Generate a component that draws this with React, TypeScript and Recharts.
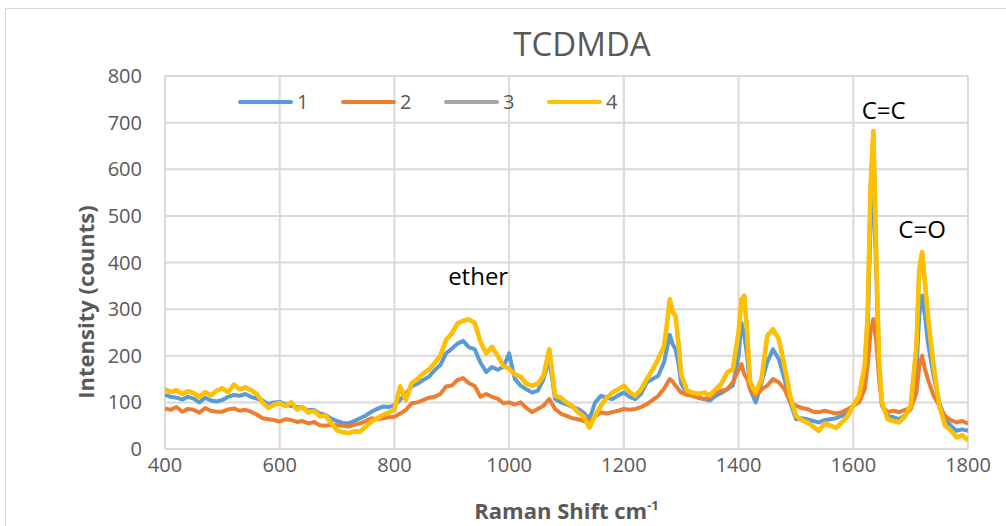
import React from "react";
import {
  LineChart,
  Line,
  XAxis,
  YAxis,
  CartesianGrid,
  Legend,
  Label,
  ReferenceDot,
} from "recharts";

// Raman spectra, [shift cm-1, counts]
const spectrum1: [number, number][] = [
  [400, 116], [410, 112], [420, 110], [430, 106], [440, 112], [450, 108], [460, 100], [470, 110], [480, 104], [490, 102],
  [500, 105], [510, 112], [520, 116], [530, 114], [540, 118], [550, 112], [560, 108], [570, 104], [580, 96], [590, 100],
  [600, 101], [610, 96], [620, 92], [630, 90], [640, 88], [650, 83], [660, 84], [670, 76], [680, 73], [690, 65],
  [700, 60], [710, 56], [720, 55], [730, 60], [740, 66], [750, 72], [760, 80], [770, 86], [780, 91], [790, 90],
  [800, 94], [810, 105], [820, 119], [830, 134], [840, 140], [850, 148], [860, 155], [870, 169], [880, 180], [890, 205],
  [900, 215], [910, 226], [920, 232], [930, 218], [940, 214], [950, 185], [960, 165], [970, 176], [980, 170], [990, 176],
  [1000, 205], [1010, 150], [1020, 136], [1030, 128], [1040, 121], [1050, 125], [1060, 150], [1070, 193], [1080, 107], [1090, 100],
  [1100, 96], [1110, 90], [1120, 86], [1130, 78], [1140, 64], [1150, 100], [1160, 114], [1170, 110], [1180, 107], [1190, 115],
  [1200, 121], [1210, 112], [1220, 107], [1230, 118], [1240, 143], [1250, 150], [1260, 157], [1270, 186], [1275, 215], [1280, 245],
  [1285, 225], [1290, 214], [1295, 185], [1300, 140], [1310, 118], [1320, 114], [1330, 110], [1340, 107], [1350, 104], [1360, 114],
  [1370, 120], [1380, 128], [1390, 136], [1400, 200], [1405, 271], [1410, 243], [1415, 200], [1420, 128], [1430, 100], [1440, 143],
  [1450, 186], [1460, 214], [1470, 193], [1480, 150], [1490, 100], [1500, 64], [1510, 66], [1520, 64], [1530, 60], [1540, 57],
  [1550, 62], [1560, 64], [1570, 66], [1580, 71], [1590, 80], [1600, 93], [1610, 107], [1620, 150], [1625, 250], [1630, 480],
  [1635, 560], [1640, 380], [1645, 170], [1650, 93], [1660, 71], [1670, 68], [1680, 64], [1690, 72], [1700, 86], [1710, 170],
  [1715, 286], [1720, 329], [1725, 286], [1730, 229], [1740, 157], [1750, 100], [1760, 64], [1770, 50], [1780, 39], [1790, 42],
  [1800, 39],
];

const spectrum2: [number, number][] = [
  [400, 87], [410, 84], [420, 90], [430, 80], [440, 86], [450, 84], [460, 78], [470, 88], [480, 82], [490, 80],
  [500, 80], [510, 85], [520, 87], [530, 82], [540, 84], [550, 80], [560, 74], [570, 66], [580, 64], [590, 62],
  [600, 59], [610, 64], [620, 62], [630, 58], [640, 60], [650, 55], [660, 58], [670, 51], [680, 50], [690, 52],
  [700, 51], [710, 50], [720, 48], [730, 52], [740, 55], [750, 60], [760, 66], [770, 64], [780, 66], [790, 68],
  [800, 69], [810, 76], [820, 84], [830, 98], [840, 100], [850, 105], [860, 110], [870, 112], [880, 118], [890, 134],
  [900, 136], [910, 148], [920, 152], [930, 141], [940, 135], [950, 112], [960, 118], [970, 112], [980, 108], [990, 98],
  [1000, 100], [1010, 95], [1020, 100], [1030, 88], [1040, 79], [1050, 86], [1060, 93], [1070, 107], [1080, 86], [1090, 76],
  [1100, 71], [1110, 66], [1120, 64], [1130, 60], [1140, 57], [1150, 70], [1160, 79], [1170, 76], [1180, 79], [1190, 82],
  [1200, 86], [1210, 84], [1220, 86], [1230, 90], [1240, 96], [1250, 105], [1260, 114], [1270, 129], [1275, 140], [1280, 150],
  [1285, 145], [1290, 136], [1295, 128], [1300, 121], [1310, 116], [1320, 114], [1330, 110], [1340, 107], [1350, 112], [1360, 121],
  [1370, 125], [1380, 128], [1390, 143], [1400, 170], [1405, 182], [1410, 160], [1415, 150], [1420, 128], [1430, 114], [1440, 128],
  [1450, 136], [1460, 150], [1470, 143], [1480, 128], [1490, 100], [1500, 93], [1510, 88], [1520, 86], [1530, 80], [1540, 79],
  [1550, 82], [1560, 79], [1570, 76], [1580, 79], [1590, 85], [1600, 93], [1610, 100], [1620, 128], [1625, 178], [1630, 250],
  [1635, 279], [1640, 230], [1645, 150], [1650, 93], [1660, 79], [1670, 82], [1680, 79], [1690, 84], [1700, 86], [1710, 120],
  [1715, 178], [1720, 200], [1725, 171], [1730, 150], [1740, 114], [1750, 93], [1760, 71], [1770, 62], [1780, 57], [1790, 60],
  [1800, 54],
];

const spectrum4: [number, number][] = [
  [400, 128], [410, 122], [420, 126], [430, 118], [440, 124], [450, 120], [460, 112], [470, 122], [480, 115], [490, 125],
  [500, 130], [510, 122], [520, 138], [530, 128], [540, 132], [550, 126], [560, 118], [570, 100], [580, 88], [590, 95],
  [600, 98], [610, 92], [620, 100], [630, 85], [640, 90], [650, 78], [660, 82], [670, 70], [680, 72], [690, 55],
  [700, 40], [710, 36], [720, 34], [730, 38], [740, 37], [750, 48], [760, 59], [770, 66], [780, 73], [790, 78],
  [800, 84], [810, 134], [820, 105], [830, 141], [840, 150], [850, 162], [860, 170], [870, 184], [880, 200], [890, 234],
  [900, 248], [910, 269], [920, 275], [930, 278], [940, 270], [950, 230], [960, 205], [970, 219], [980, 200], [990, 178],
  [1000, 172], [1010, 160], [1020, 155], [1030, 140], [1040, 136], [1050, 140], [1060, 157], [1070, 214], [1080, 114], [1090, 110],
  [1100, 100], [1110, 92], [1120, 79], [1130, 70], [1140, 46], [1150, 72], [1160, 93], [1170, 110], [1180, 121], [1190, 128],
  [1200, 136], [1210, 122], [1220, 114], [1230, 128], [1240, 150], [1250, 170], [1260, 193], [1270, 221], [1275, 265], [1280, 321],
  [1285, 295], [1290, 285], [1295, 230], [1300, 160], [1310, 125], [1320, 121], [1330, 118], [1340, 121], [1350, 115], [1360, 128],
  [1370, 140], [1380, 164], [1390, 171], [1400, 250], [1405, 321], [1410, 329], [1415, 250], [1420, 143], [1430, 121], [1440, 150],
  [1450, 243], [1460, 257], [1470, 236], [1480, 178], [1490, 114], [1500, 71], [1510, 62], [1520, 57], [1530, 48], [1540, 39],
  [1550, 55], [1560, 50], [1570, 45], [1580, 57], [1590, 70], [1600, 93], [1610, 114], [1620, 180], [1625, 286], [1630, 560],
  [1635, 682], [1640, 420], [1645, 190], [1650, 100], [1660, 64], [1670, 60], [1680, 57], [1690, 70], [1700, 93], [1710, 220],
  [1715, 386], [1720, 422], [1725, 357], [1730, 286], [1740, 178], [1750, 93], [1760, 50], [1770, 40], [1780, 25], [1790, 30],
  [1800, 18],
];

// run 3 sits exactly under run 4 in the original
const spectrum3 = spectrum4;

const xTicks = [400, 600, 800, 1000, 1200, 1400, 1600, 1800];
const yTicks = [0, 100, 200, 300, 400, 500, 600, 700, 800];

const series = [
  { name: "1", color: "#5B9BD5", points: spectrum1 },
  { name: "2", color: "#ED7D31", points: spectrum2 },
  { name: "3", color: "#A5A5A5", points: spectrum3 },
  { name: "4", color: "#FFC000", points: spectrum4 },
];

const notes = [
  { x: 946, y: 371, text: "ether" },
  { x: 1653, y: 726, text: "C=C" },
  { x: 1720, y: 470, text: "C=O" },
];

const FONT = "'Open Sans', sans-serif";
const GREY = "#595959";

const toRows = (pts: [number, number][]) => pts.map(([shift, counts]) => ({ shift, counts }));

const LegendBox = () => (
  <div style={{ display: "flex", fontFamily: FONT, fontSize: 20, color: GREY }}>
    {series.map((s) => (
      <div key={s.name} style={{ width: 103, display: "flex", alignItems: "center" }}>
        <span style={{ display: "inline-block", width: 55, height: 4, borderRadius: 2, background: s.color, marginRight: 4 }} />
        <span>{s.name}</span>
      </div>
    ))}
  </div>
);

const XTitle = (props: any) => {
  const { x, y, width } = props.viewBox;
  return (
    <text x={x + width / 2} y={y + 70} textAnchor="middle" fontFamily={FONT} fontWeight="bold" fontSize={22} fill={GREY}>
      Raman Shift cm
      <tspan dy={-9} fontSize={13}>-1</tspan>
    </text>
  );
};

// excel puts this title a bit below the plot's middle
const YTitle = (props: any) => {
  const { x } = props.viewBox;
  const tx = x + 9;
  const ty = 302;
  return (
    <text
      x={tx}
      y={ty}
      transform={`rotate(-90, ${tx}, ${ty})`}
      textAnchor="middle"
      fontFamily={FONT}
      fontWeight="bold"
      fontSize={22}
      fill={GREY}
    >
      Intensity (counts)
    </text>
  );
};

export default function App() {
  return (
    <div style={{ position: "absolute", left: 0, top: 0, width: 1006, height: 526, overflow: "hidden", background: "#fff" }}>
      <div style={{ position: "absolute", left: 5, top: 8, width: 1020, height: 540, border: "1px solid #D9D9D9" }} />
      <div
        style={{
          position: "absolute",
          left: 0,
          width: 1164,
          top: 24,
          textAlign: "center",
          fontFamily: FONT,
          fontSize: 33,
          color: GREY,
          lineHeight: "40px",
        }}
      >
        TCDMDA
      </div>
      <LineChart width={1006} height={526} margin={{ top: 76, right: 38, bottom: 0, left: 85 }} style={{ position: "absolute", left: 0, top: 0 }}>
        <CartesianGrid stroke="#D9D9D9" strokeWidth={2} />
        <XAxis
          dataKey="shift"
          type="number"
          domain={[400, 1800]}
          ticks={xTicks}
          allowDataOverflow
          height={77}
          tickLine={false}
          tickSize={0}
          tickMargin={9}
          axisLine={{ stroke: "#D9D9D9", strokeWidth: 2 }}
          tick={{ fill: GREY, fontSize: 20, fontFamily: FONT }}
        >
          <Label content={XTitle} />
        </XAxis>
        <YAxis
          dataKey="counts"
          type="number"
          domain={[0, 800]}
          ticks={yTicks}
          width={80}
          tickLine={false}
          tickSize={0}
          tickMargin={23}
          axisLine={false}
          tick={{ fill: GREY, fontSize: 20, fontFamily: FONT }}
        >
          <Label content={YTitle} />
        </YAxis>
        <Legend
          layout="horizontal"
          verticalAlign="middle"
          align="center"
          content={LegendBox}
          wrapperStyle={{ position: "absolute", left: 238, top: 88, width: 430 }}
        />
        {series.map((s) => (
          <Line
            key={s.name}
            name={s.name}
            data={toRows(s.points)}
            dataKey="counts"
            type="linear"
            stroke={s.color}
            strokeWidth={s.name === "4" ? 4.5 : 4}
            strokeLinejoin="round"
            dot={false}
            activeDot={false}
            isAnimationActive={false}
          />
        ))}
        {notes.map((n) => (
          <ReferenceDot
            key={n.text}
            x={n.x}
            y={n.y}
            r={0}
            fill="none"
            stroke="none"
            label={{ value: n.text, position: "center", fill: "#000", fontSize: 24, fontFamily: FONT }}
          />
        ))}
      </LineChart>
    </div>
  );
}
